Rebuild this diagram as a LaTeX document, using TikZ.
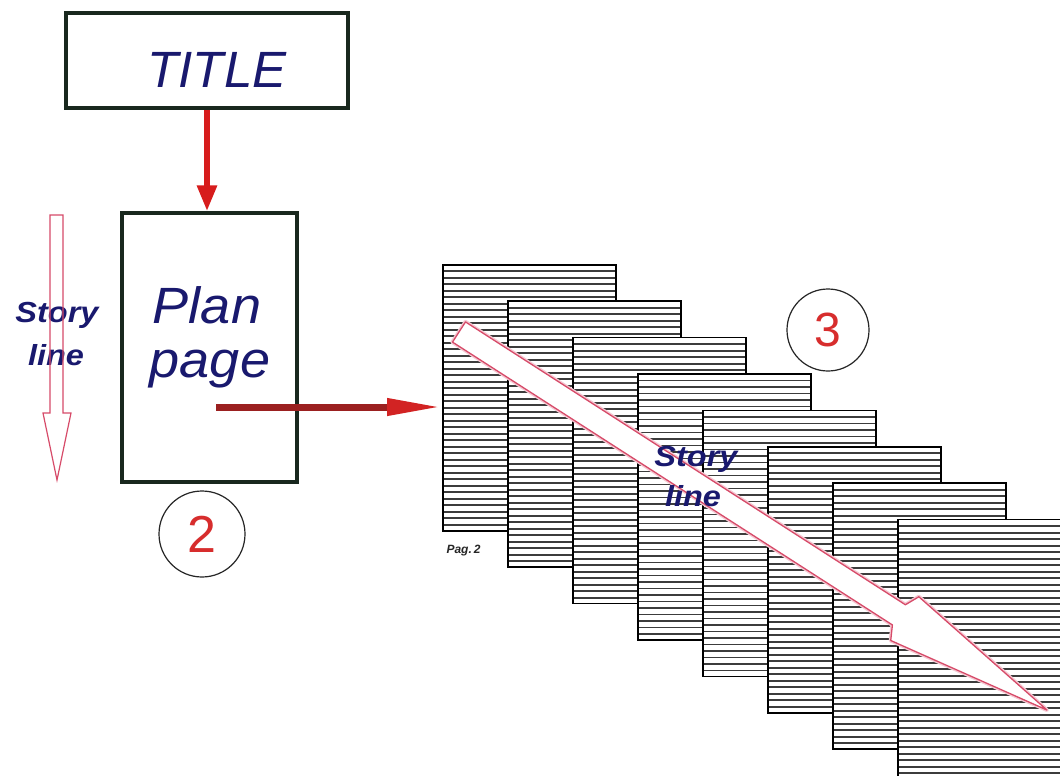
\documentclass[tikz,border=0pt]{standalone}
\usepackage{fontspec}
\setmainfont{Liberation Sans}
\usetikzlibrary{arrows.meta}
\definecolor{navy}{RGB}{25,25,110}
\definecolor{titlered}{RGB}{215,28,28}
\definecolor{shaftred}{RGB}{155,32,32}
\definecolor{headred}{RGB}{210,35,35}
\definecolor{pinkline}{RGB}{215,75,105}
\definecolor{pinkglow}{RGB}{245,200,210}
\definecolor{boxline}{RGB}{25,40,30}
\definecolor{digitred}{RGB}{215,45,45}
\definecolor{hatch}{RGB}{60,60,60}
\begin{document}
\begin{tikzpicture}[x=1pt,y=-1pt,
  frame/.style={draw=boxline, line width=3.5pt, fill=white, inner sep=0pt},
  pagebox/.style={draw=black, line width=1.6pt, fill=white, inner sep=0pt,
    minimum width=173pt, minimum height=266pt, anchor=north west,
    path picture={\foreach \k in {1,...,40}{
      \draw[hatch, line width=1.8pt]
        ([yshift=-\k*6.5pt]path picture bounding box.north west) --
        ([yshift=-\k*6.5pt]path picture bounding box.north east);}}},
  bigtext/.style={text=navy, font=\fontsize{51}{56}\selectfont\itshape, anchor=base},
  storytext/.style={text=navy, font=\fontsize{29}{32}\selectfont\bfseries\itshape, anchor=base, xscale=1.12},
  circ/.style={circle, draw=black!85, line width=1.2pt, inner sep=0pt, text=digitred},
  redarrow/.style={draw=titlered, line width=6pt, -{Triangle[length=26pt,width=19pt]}},
  darkarrow/.style={draw=shaftred, line width=7pt, -{Triangle[length=55pt,width=16pt,color=headred]}},
  hollow/.style={draw=pinkline, line width=1.2pt}
]
\useasboundingbox (0,0) rectangle (1060,776);
\clip (0,0) rectangle (1060,776);
\fill[white] (0,0) rectangle (1060,776);

% stack of pages
\foreach \i in {1,...,8}{
  \node[pagebox] (p\i) at ({442+65*(\i-1)},{264+36.4*(\i-1)}) {};
}
\node[anchor=base west, text=black!85, font=\fontsize{12}{14}\selectfont\bfseries\itshape] (pag) at (443,553) {Pag.\,2};

% big story-line arrow
\coordinate (st) at (459,332);
\coordinate (se) at (1047,710);
\begin{scope}[shift={(st)}, rotate=-32.74]
  \draw[pinkglow, line width=4pt, line join=round] (0,-12) -- (523,-12) -- (530,-26) -- (699,0) -- (530,26) -- (523,12) -- (0,12) -- cycle;
  \filldraw[fill=white, draw=pinkline, line width=1.3pt, line join=round] (0,-12) -- (523,-12) -- (530,-26) -- (699,0) -- (530,26) -- (523,12) -- (0,12) -- cycle;
\end{scope}
\node[storytext] (as1) at (696,466) {Story};
\node[storytext] (as2) at (693,506) {line};

% title
\node[frame, minimum width=282pt, minimum height=95pt] (title) at (207,60.5) {};
\node[bigtext] (ttl) at (217,87) {TITLE};

% plan page
\node[frame, minimum width=175pt, minimum height=269pt] (plan) at (209.5,347.5) {};
\node[bigtext, xscale=1.06] (tplan) at (207,323) {Plan};
\node[bigtext, xscale=1.06] (tpage) at (210,377) {page};

\draw[redarrow] (title.south) -- (title.south |- plan.north);

\coordinate (src) at (216,407);
\draw[darkarrow] (src) -- (p1.west |- src);

% left story line
\node[storytext] (ls1) at (57,322) {Story};
\node[storytext] (ls2) at (56,365) {line};
\draw[hollow] (50,215) -- (63,215) -- (63,413) -- (71,413) -- (57,480) -- (43,413) -- (50,413) -- cycle;

% numbered circles
\node[circ, minimum size=86pt, font=\fontsize{52}{56}\selectfont] (c2) at (202,534) {2};
\node[circ, minimum size=82pt, font=\fontsize{48}{52}\selectfont] (c3) at (828,330) {3};
\end{tikzpicture}
\end{document}
